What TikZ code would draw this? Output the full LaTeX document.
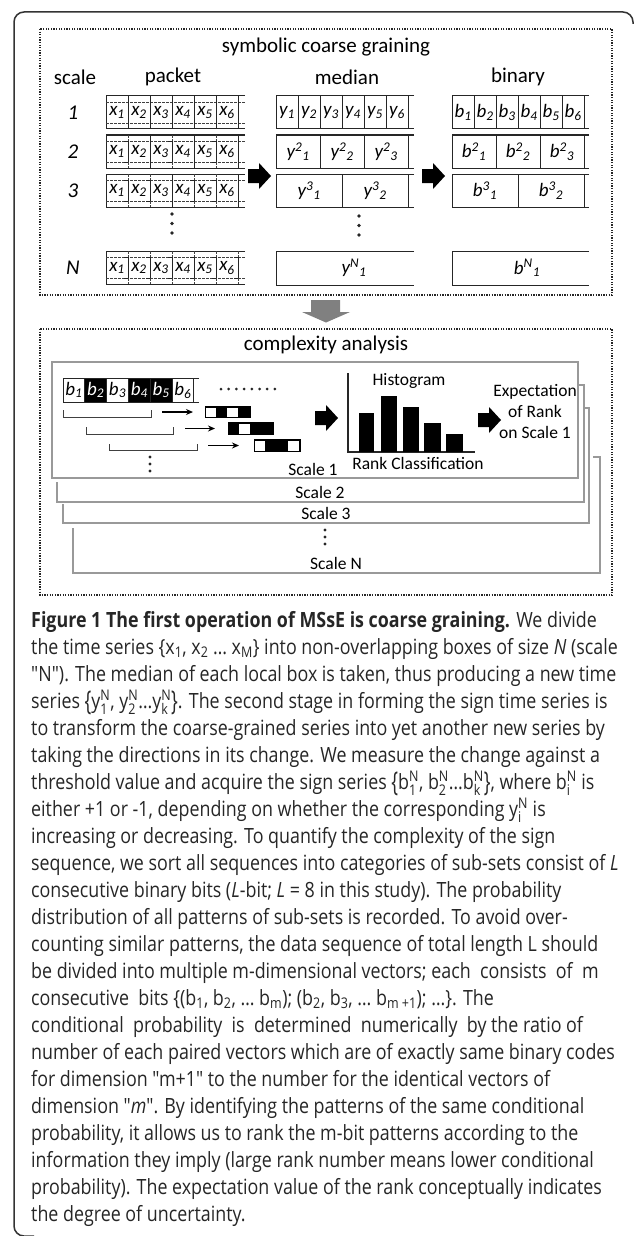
\documentclass[tikz,border=0pt]{standalone}
\usepackage{fontspec}
\usepackage{amsmath}
\usepackage{graphicx}
\usetikzlibrary{arrows.meta}
\setmainfont{Open Sans}[FakeStretch=0.85, Ligatures=TeXOff]
\newfontfamily\dfont{Carlito}
\newcommand\ssc[2]{\ensuremath{{}^{\text{#1}}_{\text{#2}}}}
\newcommand\bigbr[1]{\raisebox{-0.12em}{\scalebox{1}[1.3]{#1}}}
\newcommand\capsz{\fontsize{21}{26}\selectfont}
\newcommand\qq{\symbol{34}}
\tikzset{
  dtitle/.style={font=\dfont\fontsize{21}{24}\selectfont, inner sep=0},
  slabel/.style={font=\dfont\itshape\fontsize{21}{24}\selectfont, inner sep=0},
  cell/.style={font=\dfont\itshape\fontsize{19}{22}\selectfont, inner sep=0},
  sm/.style={font=\dfont\fontsize{17.5}{21}\selectfont, inner sep=0, align=center},
  dotpanel/.style={line width=1.3pt, dash pattern=on 1.3pt off 1.3pt, black!85},
  rowline/.style={line width=1pt, black!85},
  dashline/.style={line width=0.7pt, dash pattern=on 2.5pt off 1.5pt, black!75},
  scaleframe/.style={line width=1.1pt, black!40},
  capline/.style={anchor=base west, inner sep=0, font=\capsz, text=black!85},
  barrow/.pic={\fill (0,-7) -- (11,-7) -- (11,-13) -- (23,0) -- (11,13) -- (11,7) -- (0,7) -- cycle;}
}
\begin{document}
\begin{tikzpicture}[x=1pt,y=-1pt]
\useasboundingbox (0,0) rectangle (633,1236);
\fill[white] (0,0) rectangle (633,1236);
% outer frame
\draw[line width=1.5pt, black!80, rounded corners=10pt] (633,24) -- (633,12) -- (14,12) -- (14,1236) -- (34,1236);
% ---------------- top panel
\draw[dotpanel] (40,29) rectangle (612,295);
\node[dtitle] (t1) at (326,47) {symbolic coarse graining};
\node[dtitle] (hscale) at (75,77) {scale};
\node[dtitle] (hpacket) at (173,77) {packet};
\node[dtitle] (hmedian) at (347,77) {median};
\node[dtitle] (hbinary) at (518,77) {binary};
\node[slabel] (s1) at (73,113) {1};
\node[slabel] (s2) at (73,152) {2};
\node[slabel] (s3) at (73,191) {3};
\node[slabel] (sN) at (73,268) {N};
% packet rows
\foreach \k/\yt in {1/96, 2/135, 3/174, 99/251} {
  \draw[rowline] (245,\yt) -- (106,\yt) -- (106,\yt+33) -- (245,\yt+33);
  \draw[dashline] (106,\yt+6) -- (245,\yt+6) (106,\yt+27) -- (245,\yt+27);
  \foreach \i in {1,...,6} {
    \pgfmathtruncatemacro\rem{mod(\i,\k)}
    \ifnum\rem=0
      \draw[rowline] (106+22*\i,\yt) -- (106+22*\i,\yt+33);
    \else
      \draw[rowline] (106+22*\i-4,\yt+6) -- (106+22*\i,\yt+6) -- (106+22*\i,\yt+27) -- (106+22*\i-4,\yt+27);
      \draw[dashline] (106+22*\i,\yt) -- (106+22*\i,\yt+6) (106+22*\i,\yt+27) -- (106+22*\i,\yt+33);
    \fi
  }
}
\foreach \r/\yc in {1/112.5, 2/151.5, 3/190.5, N/268}
  \foreach \i in {1,...,6}
    \node[cell] (x\r\i) at (95+22*\i,\yc) {x\textsubscript{\i}};
% median rows
\draw[rowline] (414,96) -- (276,96) -- (276,129) -- (414,129);
\foreach \i in {1,...,6} \draw[rowline] (276+22*\i,96) -- (276+22*\i,129);
\foreach \i in {1,...,6} \node[cell] (y1\i) at (265+22*\i,112.5) {y\textsubscript{\i}};
\draw[rowline] (414,135) -- (276,135) -- (276,168) -- (414,168);
\foreach \i in {1,2,3} \draw[rowline] (276+44*\i,135) -- (276+44*\i,168);
\foreach \i in {1,2,3} \node[cell] (y2\i) at (254+44*\i,151.5) {y\textsuperscript{2}\textsubscript{\i}};
\draw[rowline] (414,174) -- (276,174) -- (276,207) -- (414,207);
\foreach \i in {1,2} \draw[rowline] (276+66*\i,174) -- (276+66*\i,207);
\foreach \i in {1,2} \node[cell] (y3\i) at (243+66*\i,190.5) {y\textsuperscript{3}\textsubscript{\i}};
\draw[rowline] (414,251) -- (276,251) -- (276,285) -- (414,285);
\node[cell] (yN1) at (354,268) {y\textsuperscript{N}\textsubscript{1}};
% binary rows
\draw[rowline] (589,96) -- (452,96) -- (452,129) -- (589,129);
\foreach \i in {1,...,6} \draw[rowline] (452+22*\i,96) -- (452+22*\i,129);
\foreach \i in {1,...,6} \node[cell] (b1\i) at (441+22*\i,112.5) {b\textsubscript{\i}};
\draw[rowline] (589,135) -- (452,135) -- (452,168) -- (589,168);
\foreach \i in {1,2,3} \draw[rowline] (452+44*\i,135) -- (452+44*\i,168);
\foreach \i in {1,2,3} \node[cell] (b2\i) at (430+44*\i,151.5) {b\textsuperscript{2}\textsubscript{\i}};
\draw[rowline] (589,174) -- (452,174) -- (452,207) -- (589,207);
\foreach \i in {1,2} \draw[rowline] (452+66*\i,174) -- (452+66*\i,207);
\foreach \i in {1,2} \node[cell] (b3\i) at (419+66*\i,190.5) {b\textsuperscript{3}\textsubscript{\i}};
\draw[rowline] (589,251) -- (452,251) -- (452,285) -- (589,285);
\node[cell] (bN1) at (527,268) {b\textsuperscript{N}\textsubscript{1}};
% block arrows
\pic (arrA) at (248,176) {barrow};
\pic (arrB) at (422,176) {barrow};
% dots
\foreach \yy in {214,223.5,233} {\fill[black!85] (172,\yy) circle (1.8); \fill[black!85] (359,\yy+2) circle (1.8);}
% gray arrow down
\fill[black!50] (311,300) -- (340,300) -- (340,312) -- (350,312) -- (326,322.5) -- (302,312) -- (311,312) -- cycle;
% ---------------- bottom panel
\draw[dotpanel] (40,329) rectangle (612,595);
\node[dtitle] (t2) at (326,345) {complexity analysis};
\draw[scaleframe] (52,362) rectangle (578,478);
\draw[scaleframe] (57,482) -- (57,502) -- (584,502) -- (584,385) -- (579,385);
\draw[scaleframe] (63,504) -- (63,523) -- (589,523) -- (589,408) -- (584,408);
\draw[scaleframe] (73,528) -- (73,573) -- (600,573) -- (600,457) -- (593,457);
\node[sm] (sc1) at (313,469) {Scale 1};
\node[sm] (sc2) at (320,492) {Scale 2};
\node[sm] (sc3) at (326,513) {Scale 3};
\node[sm] (scN) at (336,563) {Scale N};
\foreach \yy in {530,537,544} \fill[black!85] (325,\yy) circle (1.7);
% b row
\foreach \i in {2,4,5} \fill[black] (63+21.8*\i-21.8,378) rectangle (63+21.8*\i,402);
\draw[rowline] (199,378) -- (63,378) -- (63,402) -- (199,402);
\foreach \i in {1,...,6} \draw[rowline] (63+21.8*\i,378) -- (63+21.8*\i,402);
\foreach \i/\c in {1/black,2/white,3/black,4/white,5/white,6/black}
  \node[cell, text=\c] (bb\i) at (52.1+21.8*\i,390) {b\textsubscript{\i}};
\foreach \i in {0,...,7} \fill[black!85] (221+7.7*\i,389) circle (1.5);
% brackets
\draw[rowline, black!75] (63,410) -- (63,417) -- (151,417) -- (151,410);
\draw[rowline, black!75] (86,427) -- (86,434) -- (173,434) -- (173,427);
\draw[rowline, black!75] (109,444) -- (109,450.5) -- (197,450.5) -- (197,444);
\foreach \yy in {457,464,471} \fill[black!85] (150,\yy) circle (1.7);
% pattern boxes
\coordinate (a1) at (162,412);
\coordinate (a2) at (185,428.5);
\coordinate (a3) at (208,445.5);
\node[draw, line width=1pt, minimum width=44pt, minimum height=10pt, inner sep=0, anchor=west] (p1) at (205,412) {};
\node[draw, line width=1pt, minimum width=44pt, minimum height=11pt, inner sep=0, anchor=west] (p2) at (228,428.5) {};
\node[draw, line width=1pt, minimum width=45pt, minimum height=11pt, inner sep=0, anchor=west] (p3) at (254,445.5) {};
\fill (216,407) rectangle (227,417);
\fill (238,407) rectangle (249,417);
\fill (228,423) rectangle (239,434);
\fill (250,423) rectangle (272,434);
\fill (265,440) rectangle (288,451);
\draw[line width=1pt] (p1.north west) rectangle (p1.south east);
\draw[line width=1pt] (p2.north west) rectangle (p2.south east);
\draw[line width=1pt] (p3.north west) rectangle (p3.south east);
\draw[line width=1.2pt, -{Stealth[length=7pt,width=6pt]}, shorten >=12pt] (a1) -- (p1.west);
\draw[line width=1.2pt, -{Stealth[length=7pt,width=6pt]}, shorten >=13pt] (a2) -- (p2.west);
\draw[line width=1.2pt, -{Stealth[length=7pt,width=6pt]}, shorten >=15pt] (a3) -- (p3.west);
\pic (arrC) at (315,418) {barrow};
% histogram
\draw[line width=1.2pt, black!85] (348,373) -- (348,452) -- (475,452);
\fill (359,413) rectangle (374,452);
\fill (381,396) rectangle (397,452);
\fill (403,407) rectangle (419,452);
\fill (424,423) rectangle (441,452);
\fill (446,434) rectangle (463,452);
\node[sm] (hist) at (409,381) {Histogram};
\node[sm] (rank) at (418,463) {Rank Classification};
\pic (arrD) at (478,420) {barrow};
\node[sm, font=\dfont\fontsize{17.5}{21}\selectfont] (expect) at (535,412) {Expectation\\of Rank\\on Scale 1};
% ---------------- caption
\node[capline] (c1) at (31,627) {\textbf{Figure 1 The first operation of MSsE is coarse graining.} We divide};
\node[capline] (c2) at (31,654) {the time series \{x\textsubscript{1}, x\textsubscript{2} … x\textsubscript{M}\} into non-overlapping boxes of size \textit{N} (scale};
\node[capline] (c3) at (31,681) {\qq N\qq). The median of each local box is taken, thus producing a new time};
\node[capline] (c4) at (31,708) {series \bigbr{\{}y\ssc{N}{1}, y\ssc{N}{2}…y\ssc{N}{k}\bigbr{\}}. The second stage in forming the sign time series is};
\node[capline] (c5) at (31,735) {to transform the coarse-grained series into yet another new series by};
\node[capline] (c6) at (31,762) {taking the directions in its change. We measure the change against a};
\node[capline] (c7) at (31,789) {threshold value and acquire the sign series \bigbr{\{}b\ssc{N}{1}, b\ssc{N}{2}…b\ssc{N}{k}\bigbr{\}}, where b\ssc{N}{i} is};
\node[capline] (c8) at (31,816) {either +1 or -1, depending on whether the corresponding y\ssc{N}{i} is};
\node[capline] (c9) at (31,843) {increasing or decreasing. To quantify the complexity of the sign};
\node[capline] (c10) at (31,870) {sequence, we sort all sequences into categories of sub-sets consist of \textit{L}};
\node[capline] (c11) at (31,897) {consecutive binary bits (\textit{L}-bit; \textit{L} = 8 in this study). The probability};
\node[capline] (c12) at (31,924) {distribution of all patterns of sub-sets is recorded. To avoid over-};
\node[capline] (c13) at (31,951) {counting similar patterns, the data sequence of total length L should};
\node[capline] (c14) at (31,978) {be divided into multiple m-dimensional vectors; each\ \ consists\ \ of\ \ m};
\node[capline] (c15) at (31,1005) {consecutive\ \ bits\ \{(b\textsubscript{1}, b\textsubscript{2}, … b\textsubscript{m}); (b\textsubscript{2}, b\textsubscript{3}, … b\textsubscript{m +1}); …\}. The};
\node[capline] (c16) at (31,1032) {conditional\ \ probability\ \ is\ \ determined\ \ numerically\ \ by the ratio of};
\node[capline] (c17) at (31,1059) {number of each paired vectors which are of exactly same binary codes};
\node[capline] (c18) at (31,1086) {for dimension \qq m+1\qq{} to the number for the identical vectors of};
\node[capline] (c19) at (31,1113) {dimension \qq\textit{m}\qq. By identifying the patterns of the same conditional};
\node[capline] (c20) at (31,1140) {probability, it allows us to rank the m-bit patterns according to the};
\node[capline] (c21) at (31,1167) {information they imply (large rank number means lower conditional};
\node[capline] (c22) at (31,1194) {probability). The expectation value of the rank conceptually indicates};
\node[capline] (c23) at (31,1221) {the degree of uncertainty.};
\end{tikzpicture}
\end{document}
